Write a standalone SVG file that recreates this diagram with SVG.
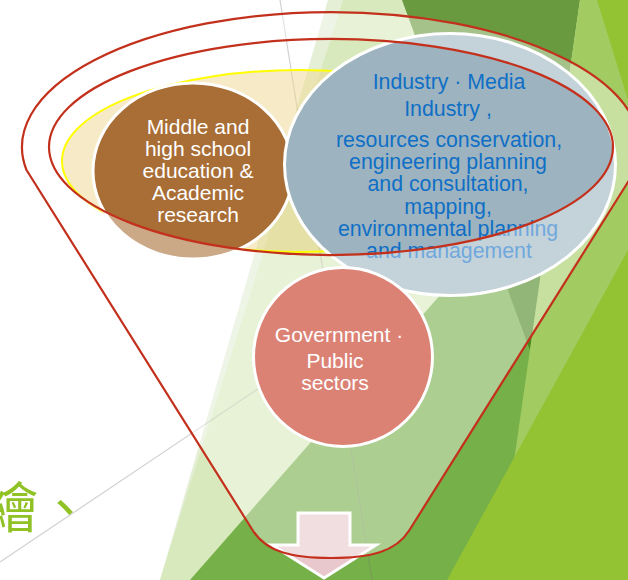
<svg xmlns="http://www.w3.org/2000/svg" width="628" height="580" viewBox="0 0 628 580">
<style>
.lbl{font-family:"Liberation Sans",Arial,sans-serif;font-size:21px;text-anchor:middle}
.lb{font-size:21.3px}
.w{fill:#ffffff}
.b{fill:#0f6fc6}
.node{stroke:#ffffff;stroke-width:3}
.gl{stroke:#7a7a7a;stroke-opacity:0.35;stroke-width:1.2}
</style>
<rect width="628" height="580" fill="#ffffff"/>
<g id="background">
 <polygon points="328,0 628,0 628,580 160,580" fill="#e4efd5"/>
 <polygon points="343,0 628,0 628,580 160,580" fill="#d8e9bd"/>
 <polygon points="190,580 628,81 628,580" fill="#76b048"/>
 <polygon points="402,0 580,0 530,350" fill="#699a3f"/>
 <polygon points="489,239 556.9,162 530,350" fill="#4a861f"/>
 <polygon points="580,0 628,0 628,580 497,580" fill="#a2cb62"/>
 <polygon points="447,580 628,250 628,580" fill="#93c233"/>
 <polygon points="597,0 628,0 628,100" fill="#93c233"/>
 <line class="gl" x1="280" y1="0" x2="372" y2="580"/>
 <line class="gl" x1="0" y1="562" x2="420" y2="280"/>
</g>
<g id="rim-highlight">
 <ellipse cx="300" cy="161" rx="238" ry="91" fill="#f0d890" fill-opacity="0.5" stroke="#ffff00" stroke-width="2"/>
</g>
<g id="node-academic">
 <ellipse class="node" cx="193" cy="171" rx="100" ry="88" fill="#a86e36"/>
 <text class="lbl w"><tspan x="198" y="134">Middle and</tspan><tspan x="198" y="156">high school</tspan><tspan x="198" y="178">education &amp;</tspan><tspan x="198" y="200">Academic</tspan><tspan x="198" y="222">research</tspan></text>
</g>
<g id="node-industry">
 <ellipse class="node" cx="450" cy="164.5" rx="165.5" ry="131" fill="#9db4c0"/>
 <text class="lbl lb b"><tspan x="449" y="89">Industry · Media</tspan><tspan x="448" y="116">Industry ,</tspan><tspan x="449" y="147">resources conservation,</tspan><tspan x="448" y="169">engineering planning</tspan><tspan x="448" y="191">and consultation,</tspan><tspan x="448" y="214">mapping,</tspan><tspan x="448" y="236">environmental planning</tspan><tspan x="449" y="258">and management</tspan></text>
</g>
<g id="node-government">
 <circle class="node" cx="343" cy="357" r="89.5" fill="#c42f1a"/>
 <text class="lbl w"><tspan x="339" y="342">Government ·</tspan><tspan x="335" y="368">Public</tspan><tspan x="335" y="390">sectors</tspan></text>
</g>
<g id="connectors">
 <polygon points="298,513 350,513 350,545 376,545 324,578 272,545 298,545" fill="#e8c8cc" stroke="#ffffff" stroke-width="3" stroke-linejoin="miter"/>
</g>
<g id="funnel">
 <path fill="#ffffff" fill-opacity="0.4" fill-rule="evenodd" stroke="#c3301c" stroke-width="2.2" stroke-linejoin="round" d="M26.5,170 A309,135 0 1,1 635.5,170 L409.5,530 C396,552 370,558 331,558 C292,558 266,552 252.5,530 Z M49,147 A282,108 0 1,0 613,147 A282,108 0 1,0 49,147 Z"/>
</g>
<g id="side-text">
 <text x="-16" y="528" font-family="'Noto Sans CJK TC','Noto Sans CJK SC',sans-serif" font-size="54" fill="#90c226">繪、</text>
</g>
</svg>
